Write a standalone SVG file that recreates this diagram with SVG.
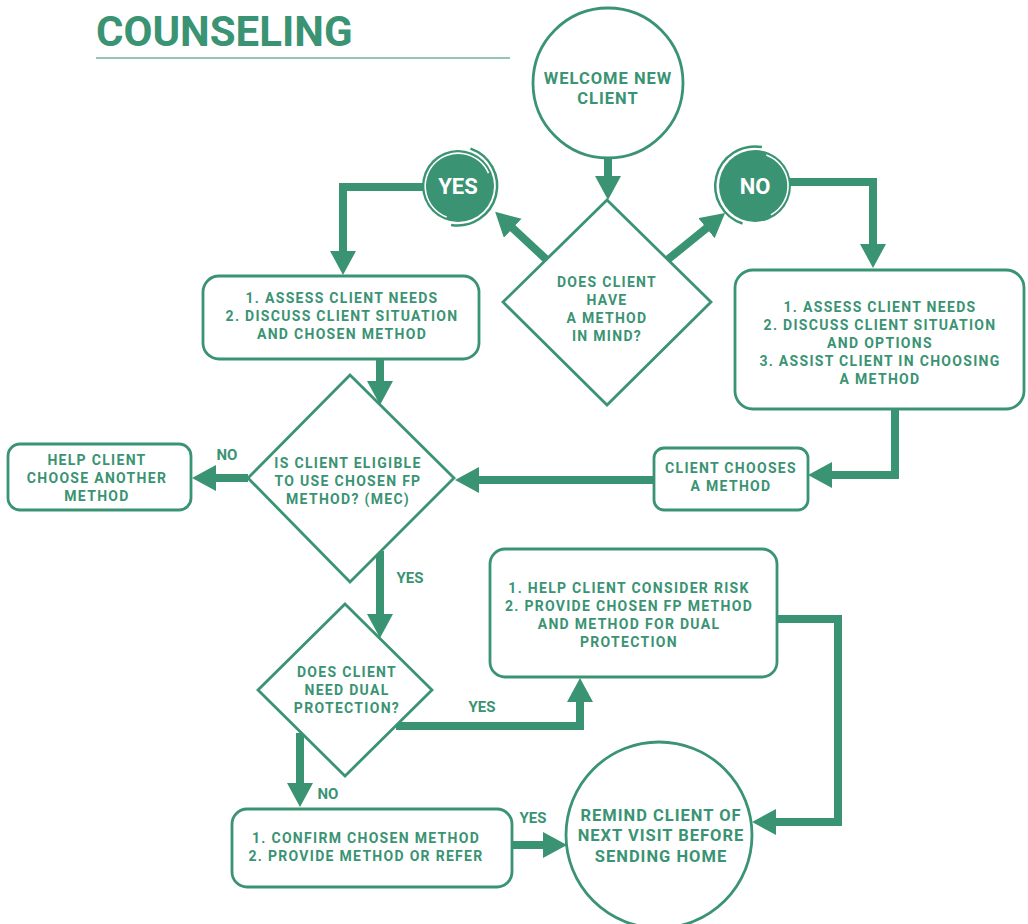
<svg xmlns="http://www.w3.org/2000/svg" width="1028" height="924" viewBox="0 0 1028 924">
<defs>
<style>
.t{font-family:Roboto,"Liberation Sans",sans-serif;font-weight:bold;fill:#3a9373;text-anchor:middle;font-size:14px;letter-spacing:1.3px}
.big{font-size:16.5px;letter-spacing:1px}
.lbl{font-family:Roboto,"Liberation Sans",sans-serif;font-weight:bold;fill:#3a9373;text-anchor:middle;font-size:15px}
.wl{font-family:Roboto,"Liberation Sans",sans-serif;font-weight:bold;fill:#ffffff;text-anchor:middle;font-size:22px}
.shape{fill:#ffffff;stroke:#3a9373;stroke-width:2.8}
.conn{fill:none;stroke:#3a9373;stroke-width:8;marker-end:url(#ah)}
</style>
<marker id="ah" markerUnits="userSpaceOnUse" markerWidth="26" markerHeight="28" refX="10" refY="13" orient="auto">
<path d="M0,0 L24,13 L0,26 z" fill="#3a9373"/>
</marker>
</defs>
<rect width="1028" height="924" fill="#ffffff"/>

<g id="title">
<text x="96" y="46" style="font-family:Roboto,'Liberation Sans',sans-serif;font-weight:bold;font-size:42px;fill:#3a9373">COUNSELING</text>
<line x1="96" y1="58" x2="510" y2="58" stroke="#6fb39a" stroke-width="1.5"/>
</g>

<g id="connectors">
<path class="conn" d="M608,158 V186"/>
<path class="conn" d="M548,261 L505.4,221.4"/>
<path class="conn" d="M666,261 L714.2,221.9"/>
<path class="conn" d="M424,187 H343 V261"/>
<path class="conn" d="M790,182 H873 V254"/>
<path class="conn" d="M380,359 V391"/>
<path class="conn" d="M895,409 V475 H822"/>
<path class="conn" d="M654,480 H469"/>
<path class="conn" d="M248,478 H206"/>
<path class="conn" d="M380,551 V624"/>
<path class="conn" d="M396,726 H580 V692"/>
<path class="conn" d="M300,733 V793"/>
<path class="conn" d="M777,619 H838 V822 H766"/>
<path class="conn" d="M512,845 H553"/>
</g>

<g id="welcome">
<circle class="shape" cx="608" cy="83" r="75"/>
<text class="t big" x="608" y="84">WELCOME NEW</text>
<text class="t big" x="608" y="104">CLIENT</text>
</g>

<g id="decision1">
<polygon class="shape" points="607,200 711,302 607,405 503,302"/>
<text class="t" x="607" y="287">DOES CLIENT</text>
<text class="t" x="607" y="305">HAVE</text>
<text class="t" x="607" y="323">A METHOD</text>
<text class="t" x="607" y="341">IN MIND?</text>
</g>

<g id="yes-badge">
<circle cx="458" cy="186" r="36" fill="#3a9373"/>
<path d="M446.7,217.1 A33,33 0 1 1 488.5,173.1" fill="none" stroke="#ffffff" stroke-width="1.6"/>
<path d="M470.5,148.6 A39.5,39.5 0 0 1 451.1,224.9" fill="none" stroke="#3a9373" stroke-width="2.5"/>
<text class="wl" x="458" y="194">YES</text>
</g>

<g id="no-badge">
<circle cx="755" cy="186" r="36" fill="#3a9373"/>
<path d="M766.3,154.9 A33,33 0 0 1 770.9,214.9" fill="none" stroke="#ffffff" stroke-width="1.6"/>
<path d="M742.5,223.5 A39.5,39.5 0 0 1 761.9,147.1" fill="none" stroke="#3a9373" stroke-width="2.5"/>
<text class="wl" x="755" y="194">NO</text>
</g>

<g id="box-yes">
<rect class="shape" x="203" y="276" width="276" height="83" rx="16"/>
<text class="t" x="342" y="303">1. ASSESS CLIENT NEEDS</text>
<text class="t" x="342" y="321">2. DISCUSS CLIENT SITUATION</text>
<text class="t" x="342" y="339">AND CHOSEN METHOD</text>
</g>

<g id="box-no">
<rect class="shape" x="735" y="270" width="289" height="139" rx="18"/>
<text class="t" x="880" y="312">1. ASSESS CLIENT NEEDS</text>
<text class="t" x="880" y="330">2. DISCUSS CLIENT SITUATION</text>
<text class="t" x="880" y="348">AND OPTIONS</text>
<text class="t" x="880" y="366">3. ASSIST CLIENT IN CHOOSING</text>
<text class="t" x="880" y="384">A METHOD</text>
</g>

<g id="client-chooses">
<rect class="shape" x="654" y="448" width="154" height="62" rx="10"/>
<text class="t" x="731" y="473">CLIENT CHOOSES</text>
<text class="t" x="731" y="491">A METHOD</text>
</g>

<g id="decision2">
<polygon class="shape" points="350,375 454,478 350,582 248,478"/>
<text class="t" x="348" y="468">IS CLIENT ELIGIBLE</text>
<text class="t" x="348" y="486">TO USE CHOSEN FP</text>
<text class="t" x="348" y="504">METHOD? (MEC)</text>
</g>

<g id="help-box">
<rect class="shape" x="8" y="444" width="183" height="66" rx="12"/>
<text class="t" x="97" y="465">HELP CLIENT</text>
<text class="t" x="97" y="483">CHOOSE ANOTHER</text>
<text class="t" x="97" y="501">METHOD</text>
</g>

<g id="decision3">
<polygon class="shape" points="345,604 432,690 345,776 258,690"/>
<text class="t" x="347" y="677">DOES CLIENT</text>
<text class="t" x="347" y="695">NEED DUAL</text>
<text class="t" x="347" y="713">PROTECTION?</text>
</g>

<g id="dual-box">
<rect class="shape" x="490" y="549" width="287" height="128" rx="15"/>
<text class="t" x="629" y="593">1. HELP CLIENT CONSIDER RISK</text>
<text class="t" x="629" y="611">2. PROVIDE CHOSEN FP METHOD</text>
<text class="t" x="629" y="629">AND METHOD FOR DUAL</text>
<text class="t" x="629" y="647">PROTECTION</text>
</g>

<g id="confirm-box">
<rect class="shape" x="232" y="809" width="280" height="78" rx="15"/>
<text class="t" x="366" y="843">1. CONFIRM CHOSEN METHOD</text>
<text class="t" x="366" y="861">2. PROVIDE METHOD OR REFER</text>
</g>

<g id="remind">
<circle class="shape" cx="659" cy="835" r="93"/>
<text class="t big" x="661" y="821">REMIND CLIENT OF</text>
<text class="t big" x="661" y="841">NEXT VISIT BEFORE</text>
<text class="t big" x="661" y="862">SENDING HOME</text>
</g>

<g id="labels">
<text class="lbl" x="227" y="460">NO</text>
<text class="lbl" x="410" y="583">YES</text>
<text class="lbl" x="482" y="712">YES</text>
<text class="lbl" x="328" y="799">NO</text>
<text class="lbl" x="533" y="823">YES</text>
</g>
</svg>
